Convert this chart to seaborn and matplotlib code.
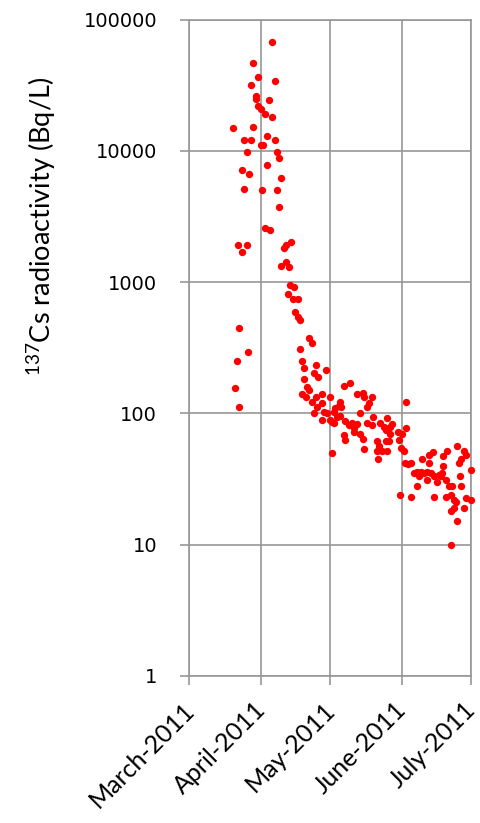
import numpy as np
import pandas as pd
import matplotlib
matplotlib.use("Agg")
import matplotlib.pyplot as plt
import matplotlib.transforms as mtransforms
from matplotlib.ticker import NullLocator, FixedLocator, FixedFormatter
import seaborn as sns

# ---- data ----
# day offset from 2011-03-01 and 137Cs activity in Bq/L
days = [35.8, 27.8, 29.7, 36.9, 26.8, 29.0, 29.0, 34.7, 29.7, 31.0,
        33.0, 35.8, 18.8, 27.8, 33.7, 23.8, 26.9, 36.9, 31.0, 31.9,
        25.1, 37.8, 39.0, 33.7, 22.9, 25.9, 39.8, 23.8, 31.7, 37.8,
        39.0, 33.0, 35.0, 21.0, 24.9, 22.9, 40.8, 42.0, 43.9, 39.8,
        41.9, 43.0, 43.7, 45.5, 42.6, 44.9, 46.9, 45.8, 46.9, 47.8,
        21.7, 51.7, 53.0, 47.8, 25.6, 20.8, 48.9, 49.8, 55.0, 59.1,
        53.8, 55.6, 49.8, 19.7, 51.0, 52.0, 48.9, 50.7, 53.1, 54.9,
        21.7, 55.3, 53.8,
        66.9, 69.8, 57.5, 61.1, 72.7, 75.3, 75.6, 79.2, 77.7, 77.0,
        57.5, 65.4, 64.7, 65.7, 63.3, 59.7, 58.2, 62.5, 64.0, 65.1,
        57.5, 61.1, 62.5, 61.8, 73.8, 79.5, 67.6, 69.0, 70.5, 72.7,
        71.2, 77.0, 79.2, 66.9, 67.6, 71.2, 74.1, 75.1, 75.6, 61.8,
        81.4, 82.1, 81.1, 83.5, 85.7, 81.8, 86.4, 85.0, 90.8, 85.7,
        87.9, 87.1, 84.2, 82.8, 85.0, 87.1,
        93.8, 94.0, 92.0, 91.5, 92.9, 93.4, 95.8, 94.8, 91.1, 95.8,
        100.9, 103.8, 105.5, 103.8, 111.8, 110.0, 115.8, 119.0, 120.0, 117.5,
        116.8, 110.0, 109.6, 108.9, 97.3, 98.8, 100.2, 101.6, 103.1, 104.5,
        99.4, 103.1, 106.0, 108.1, 107.4, 98.8, 111.0, 112.5, 113.9, 117.1,
        117.8, 121.9, 106.0, 111.0, 113.2, 114.7, 115.4, 113.2, 114.7, 119.0,
        120.0, 121.9, 115.8, 113.2, 90.4]
cs137 = [67900, 47000, 36700, 34100, 31800, 26200, 25000, 24300, 22000, 20900,
         19000, 18000, 15000, 15100, 13100, 12100, 12100, 12100, 11000, 11000,
         9760, 9810, 8880, 7810, 7190, 6640, 6210, 5120, 5030, 5030,
         3720, 2600, 2510, 1910, 1910, 1710, 1810, 1920, 2010, 1330,
         1420, 1310, 950, 913, 811, 739, 747, 594, 544, 514,
         444, 373, 345, 311, 293, 252, 252, 221, 233, 213,
         202, 190, 183, 155, 160, 151, 140, 134, 123, 132,
         111, 111, 100,
         162, 171, 140, 132, 140, 142, 132, 132, 120, 112,
         119, 123, 114, 111, 109, 101, 103, 103, 94, 95,
         89, 89, 84, 86, 101, 94, 88, 81, 84, 83,
         77, 84, 82, 68, 63, 72, 70, 64, 53, 50,
         61, 56, 52, 52, 52, 45, 62, 62, 63, 92,
         83, 78, 79, 84, 75, 70,
         122, 77, 70, 54, 52, 42, 42, 41, 24, 23,
         45, 48, 51, 42, 52, 47, 56, 52, 48, 45,
         42, 40, 35, 33, 35, 36, 36, 35, 36, 35,
         33, 31, 33, 34, 30, 28, 31, 28, 28, 33,
         28, 37, 23, 23, 24, 22, 21, 18, 19, 19,
         22.5, 22, 15, 10, 72]

month_starts = ["2011-03-01", "2011-04-01", "2011-05-01", "2011-06-01", "2011-07-01"]
month_labels = ["March-2011", "April-2011", "May-2011", "June-2011", "July-2011"]
y_ticks = [1, 10, 100, 1000, 10000, 100000]
y_tick_labels = ["1", "10", "100", "1000", "10000", "100000"]

start = pd.Timestamp("2011-03-01")
df = pd.DataFrame({"date": start + pd.to_timedelta(days, unit="D"), "cs": cs137})

sns.set_theme(style="white")
plt.rcParams["font.family"] = ["DejaVu Sans"]

W, H = 481, 823
fig = plt.figure(figsize=(W / 100, H / 100), dpi=100)
left, right, top, bottom = 189.3, 471.0, 19.7, 675.7
ax = fig.add_axes([left / W, 1 - bottom / H, (right - left) / W, (bottom - top) / H])

sns.scatterplot(data=df, x="date", y="cs", ax=ax, color="#ff0000", s=28,
                linewidth=0, legend=False, clip_on=False, zorder=3)

ax.set_yscale("log")
ax.set_ylim(1, 100000)
ax.set_xlim(pd.Timestamp(month_starts[0]), pd.Timestamp(month_starts[-1]))

grid_col = "#979797"
ax.yaxis.set_major_locator(FixedLocator(y_ticks))
ax.yaxis.set_major_formatter(FixedFormatter(y_tick_labels))
ax.yaxis.set_minor_locator(NullLocator())
xt = [matplotlib.dates.date2num(pd.Timestamp(m)) for m in month_starts]
ax.xaxis.set_major_locator(FixedLocator(xt))
ax.xaxis.set_major_formatter(FixedFormatter(month_labels))
ax.xaxis.set_minor_locator(NullLocator())

ax.grid(True, color=grid_col, linewidth=1.2)
ax.set_axisbelow(True)
for sp in ax.spines.values():
    sp.set_visible(True)
    sp.set_color(grid_col)
    sp.set_linewidth(1.2)

ax.tick_params(axis="both", which="major", bottom=True, left=True, direction="out",
               length=6.2, width=1.2, color=grid_col)
ax.tick_params(axis="y", pad=17, labelsize=14, labelcolor="black")
ax.tick_params(axis="x", pad=19.5, labelcolor="black")
offset = mtransforms.ScaledTranslation(4.5 / 72, 0, fig.dpi_scale_trans)
for lab in ax.get_xticklabels():
    lab.set_rotation(45)
    lab.set_ha("right")
    lab.set_va("baseline")
    lab.set_rotation_mode("anchor")
    lab.set_fontfamily("Lato")
    lab.set_fontsize(18)
    lab.set_transform(lab.get_transform() + offset)

ax.set_xlabel("")
ax.set_ylabel("")
fig.text(42 / W, 1 - 226.5 / H, r"$\mathregular{^{137}}$Cs radioactivity (Bq/L)",
         rotation=90, ha="center", va="center", fontsize=19.5, family="Lato", color="black")

fig.savefig("out.png", dpi=100)
